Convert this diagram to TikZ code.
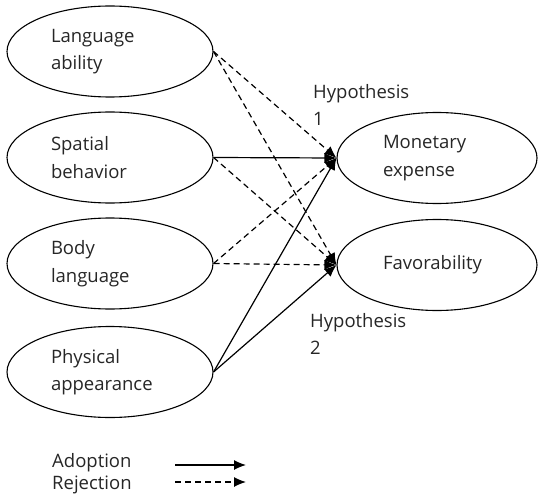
\documentclass[tikz,border=0pt]{standalone}
\usepackage{fontspec}
\setmainfont{Open Sans}
\usetikzlibrary{shapes.geometric,arrows.meta}
\begin{document}
\begin{tikzpicture}[x=1pt,y=-1pt,
  every node/.style={font=\fontsize{18.5}{27.5}\selectfont, text=black!85},
  oval/.style={ellipse, draw, line width=1.1pt, minimum width=206pt, minimum height=91pt, inner sep=2pt, align=left},
  lbl/.style={anchor=west, inner sep=0pt, align=left},
  adopt/.style={line width=1.2pt, -{Latex[length=12pt,width=10pt]}},
  reject/.style={adopt, dash pattern=on 6pt off 4pt},
]
\useasboundingbox (0,0) rectangle (538,500);
\node[oval, text width=118pt] (la) at (110,51.5) {Language\\ability};
\node[oval, text width=118pt] (sb) at (110,157.5) {Spatial\\behavior};
\node[oval, text width=118pt] (bl) at (110,263.5) {Body\\language};
\node[oval, text width=118pt] (pa) at (110,372) {Physical\\appearance};
\node[oval, minimum width=200pt, text width=108pt] (me) at (437,158) {Monetary\\expense};
\node[oval, minimum width=200pt, text width=108pt] (fa) at (437,265) {Favorability};
\node[lbl] (h1) at (313,105) {Hypothesis\\1};
\node[lbl] (h2) at (310,334) {Hypothesis\\2};
\draw[reject] (la.east) -- (me.west);
\draw[reject] (la.east) -- (fa.west);
\draw[adopt] (sb.east) -- (me.west);
\draw[reject] (sb.east) -- (fa.west);
\draw[reject] (bl.east) -- (me.west);
\draw[reject] (bl.east) -- (fa.west);
\draw[adopt] (pa.east) -- (me.west);
\draw[adopt] (pa.east) -- (fa.west);
\node[lbl] (ad) at (52,463) {Adoption};
\node[lbl] (rj) at (52,485) {Rejection};
\coordinate (a1) at (175,465);
\coordinate (a2) at (246,465);
\coordinate (r1) at (175,482);
\coordinate (r2) at (246,482);
\draw[adopt] (a1) -- (a2);
\draw[reject] (r1) -- (r2);
\end{tikzpicture}
\end{document}
